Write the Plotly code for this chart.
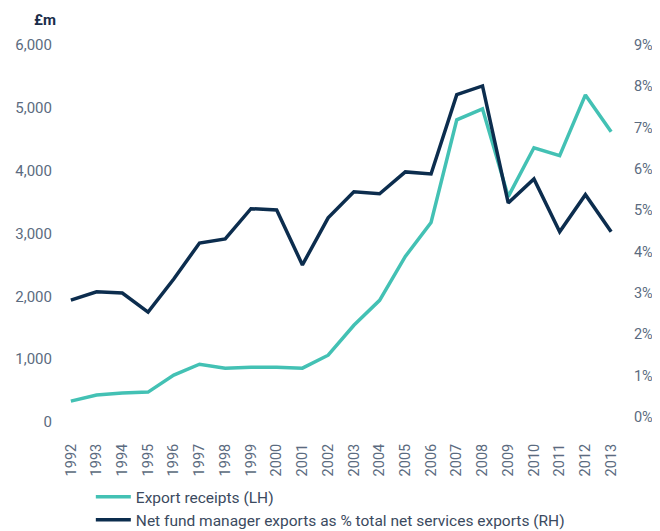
import plotly.graph_objects as go

# values
years = [str(y) for y in range(1992, 2014)]
export_receipts = [333, 430, 460, 476, 746, 920, 857, 873, 873, 857, 1063, 1540,
                   1937, 2635, 3175, 4810, 4984, 3587, 4365, 4238, 5206, 4619]
net_pct = [2.83, 3.03, 3.00, 2.54, 3.34, 4.21, 4.31, 5.04, 5.01, 3.68, 4.82, 5.45,
           5.40, 5.93, 5.88, 7.80, 8.01, 5.18, 5.76, 4.48, 5.38, 4.48]

left_ticks = [0, 1000, 2000, 3000, 4000, 5000, 6000]
right_ticks = [0, 1, 2, 3, 4, 5, 6, 7, 8, 9]
right_labels = [f"{v}%" for v in right_ticks]

teal = "#43c1b4"
navy = "#0c2d4e"
grey = "#5b6b80"

fig = go.Figure()
fig.add_trace(go.Scatter(x=years, y=export_receipts, mode="lines",
                         name="Export receipts (LH)",
                         line=dict(color=teal, width=3.5)))
fig.add_trace(go.Scatter(x=years, y=net_pct, mode="lines", yaxis="y2",
                         name="Net fund manager exports as % total net services exports (RH)",
                         line=dict(color=navy, width=3.5)))

# page body adds an 8px margin, so the figure is 8px smaller than the window
fig.update_layout(
    width=652, height=523,
    margin=dict(l=50, r=36, t=37, b=109, autoexpand=False),
    paper_bgcolor="white", plot_bgcolor="white",
    font=dict(family="Roboto", size=15, color=grey),
    showlegend=True,
    legend=dict(x=0.058, y=-0.154, xanchor="left", yanchor="top",
                font=dict(size=15.5, color="#3b4a60"), itemwidth=35),
    xaxis=dict(type="category", range=[-0.5, 21.5], showgrid=False,
               zeroline=False, showline=False,
               tickangle=-90, ticks="outside", ticklen=15,
               tickcolor="rgba(0,0,0,0)", tickfont=dict(size=14.5, color=grey)),
    yaxis=dict(range=[0, 6000], tickvals=left_ticks, tickformat=",",
               showgrid=False, zeroline=False, showline=False,
               ticks="outside", ticklen=2, tickcolor="rgba(0,0,0,0)",
               tickfont=dict(size=15, color=grey)),
    yaxis2=dict(range=[-0.12, 9], tickvals=right_ticks, ticktext=right_labels,
                overlaying="y", side="right",
                showgrid=False, zeroline=False, showline=False,
                ticks="outside", ticklen=6, tickcolor="rgba(0,0,0,0)",
                tickfont=dict(size=14.5, color=grey)),
    annotations=[dict(text="<b>£m</b>", xref="paper", yref="paper",
                      x=0.0, y=1.066, xanchor="right", yanchor="middle",
                      showarrow=False, font=dict(size=15, color="#1a2d4a"))],
)

fig.write_html("out.html")
